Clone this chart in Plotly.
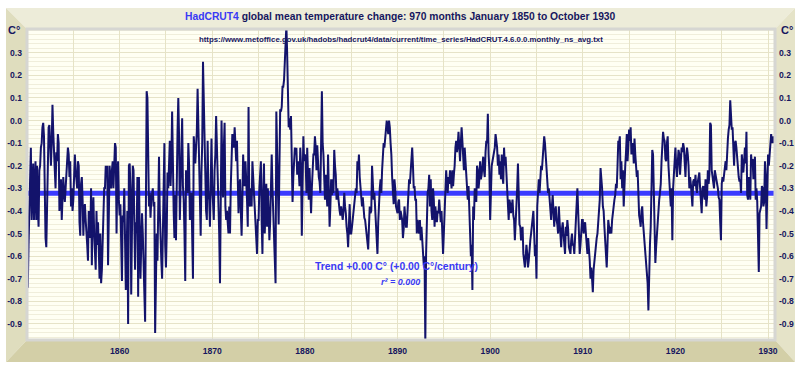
import numpy as np
import plotly.graph_objects as go

# ---------------- data (monthly anomalies, °C) ----------------
t1850s = [
    -0.30, -0.74, -0.55, -0.35, -0.20, -0.12, -0.44, -0.32, -0.19, -0.44, -0.30, -0.18,
    -0.44, -0.20, -0.38, -0.47, -0.22, -0.20, -0.12, -0.10, -0.03, -0.01, -0.07, -0.44,
    -0.52, -0.56, -0.30, -0.06, -0.03, -0.02, -0.18, -0.20, -0.10, 0.07, -0.05, -0.19,
    -0.22, -0.30, -0.14, -0.18, -0.06, -0.10, -0.40, -0.30, -0.26, -0.44, -0.30, -0.25,
    -0.32, -0.36, -0.30, -0.22, -0.18, -0.12, -0.15, -0.25, -0.18, -0.38, -0.30, -0.40,
    -0.35, -0.20, -0.15, -0.22, -0.28, -0.30, -0.18, -0.20, -0.45, -0.51, -0.28, -0.25,
    -0.35, -0.51, -0.40, -0.37, -0.44, -0.48, -0.55, -0.62, -0.40, -0.45, -0.52, -0.30,
    -0.64, -0.42, -0.34, -0.50, -0.58, -0.66, -0.40, -0.55, -0.45, -0.62, -0.70, -0.50,
    -0.72, -0.66, -0.55, -0.44, -0.30, -0.30, -0.20, -0.25, -0.20, -0.64, -0.42, -0.20,
    -0.26, -0.30, -0.22, -0.18, -0.30, -0.22, -0.10, -0.12, -0.50, -0.25, -0.18, -0.35,
]
t1860s = [
    -0.42, -0.37, -0.60, -0.71, -0.42, -0.45, -0.30, -0.55, -0.75, -0.62, -0.40, -0.90,
    -0.20, -0.19, -0.30, -0.77, -0.40, -0.20, -0.22, -0.50, -0.66, -0.45, -0.50, -0.25,
    -0.78, -0.25, -0.45, -0.70, -0.55, -0.41, -0.50, -0.60, -0.75, -0.89, -0.40, 0.13,
    0.10, -0.20, -0.38, -0.32, -0.43, -0.35, -0.32, -0.30, -0.38, -0.36, -0.94, -0.55,
    -0.50, -0.62, -0.45, -0.16, -0.40, -0.60, -0.62, -0.70, -0.45, -0.26, -0.10, -0.55,
    -0.65, -0.50, -0.23, -0.30, -0.13, -0.09, -0.29, -0.18, 0.04, -0.30, -0.40, -0.52,
    -0.33, -0.53, -0.18, -0.05, 0.10, -0.07, -0.44, -0.30, -0.26, 0.01, -0.29, -0.35,
    -0.50, -0.71, -0.22, -0.30, -0.32, -0.10, -0.20, -0.44, -0.40, -0.32, -0.55, -0.70,
    -0.07, -0.12, -0.19, -0.12, -0.05, 0.14, 0.00, -0.15, -0.35, -0.51, -0.23, -0.10,
    0.26, 0.10, -0.05, -0.29, -0.40, -0.44, -0.09, -0.32, -0.35, -0.47, -0.20, -0.08,
]
t1870s = [
    -0.29, -0.35, -0.44, -0.22, -0.15, 0.02, -0.10, -0.29, -0.40, -0.50, -0.72, -0.29,
    0.00, -0.20, -0.34, -0.12, -0.01, -0.38, -0.44, -0.40, -0.47, -0.50, -0.38, -0.50,
    -0.29, -0.15, -0.06, -0.10, -0.12, -0.03, -0.15, -0.18, -0.09, -0.25, -0.41, -0.30,
    -0.26, -0.40, -0.51, -0.35, -0.15, -0.25, -0.29, -0.18, -0.25, -0.35, -0.47, 0.06,
    -0.37, -0.38, -0.30, -0.38, -0.18, -0.25, -0.29, -0.38, -0.47, -0.52, -0.59, -0.44,
    -0.44, -0.30, -0.20, -0.18, -0.45, -0.59, -0.32, -0.19, -0.50, -0.32, -0.28, -0.47,
    -0.30, -0.40, -0.53, -0.45, -0.33, -0.15, -0.30, -0.41, -0.46, -0.55, -0.72, 0.04,
    -0.22, -0.30, -0.46, -0.15, 0.05, 0.04, 0.06, 0.15, 0.15, 0.18, 0.30, 0.36,
    0.42, 0.30, 0.15, -0.03, 0.01, -0.04, 0.02, -0.19, -0.36, -0.25, -0.15, -0.12,
    -0.15, -0.12, -0.24, -0.18, -0.22, -0.29, -0.12, -0.20, -0.51, -0.30, -0.07, -0.18,
]
t1880s = [
    -0.15, -0.18, -0.32, -0.12, -0.30, -0.35, -0.21, -0.28, -0.41, -0.30, -0.24, -0.15,
    -0.15, -0.07, -0.12, -0.22, -0.11, -0.20, -0.25, -0.27, -0.32, -0.10, 0.13, -0.10,
    -0.15, -0.25, -0.35, -0.24, -0.32, -0.38, -0.15, -0.30, -0.47, -0.38, -0.26, -0.33,
    -0.26, -0.32, -0.13, -0.20, -0.24, -0.35, -0.30, -0.33, -0.38, -0.40, -0.42, -0.38,
    -0.41, -0.44, -0.40, -0.32, -0.38, -0.41, -0.47, -0.50, -0.56, -0.45, -0.37, -0.50,
    -0.50, -0.47, -0.44, -0.40, -0.38, -0.33, -0.30, -0.32, -0.18, -0.22, -0.15, -0.25,
    -0.30, -0.35, -0.38, -0.34, -0.40, -0.43, -0.44, -0.47, -0.50, -0.52, -0.57, -0.47,
    -0.38, -0.41, -0.40, -0.20, -0.30, -0.35, -0.32, -0.40, -0.44, -0.50, -0.59, -0.45,
    -0.35, -0.30, -0.26, -0.32, -0.22, -0.15, -0.10, -0.12, -0.06, -0.04, 0.00, -0.05,
    -0.06, 0.00, -0.03, -0.10, -0.15, -0.25, -0.32, -0.37, -0.26, -0.30, -0.38, -0.40,
]
t1890s = [
    -0.41, -0.36, -0.35, -0.44, -0.40, -0.42, -0.44, -0.52, -0.48, -0.38, -0.42, -0.47,
    -0.47, -0.40, -0.34, -0.26, -0.28, -0.22, -0.18, -0.12, -0.20, -0.30, -0.29, -0.35,
    -0.35, -0.50, -0.44, -0.47, -0.50, -0.44, -0.53, -0.47, -0.52, -0.60, -0.64, -0.60,
    -0.98, -0.59, -0.40, -0.32, -0.30, -0.24, -0.38, -0.26, -0.40, -0.44, -0.30, -0.35,
    -0.47, -0.38, -0.42, -0.45, -0.40, -0.41, -0.35, -0.41, -0.45, -0.40, -0.50, -0.59,
    -0.50, -0.38, -0.32, -0.22, -0.28, -0.32, -0.25, -0.28, -0.22, -0.26, -0.30, -0.22,
    -0.29, -0.24, -0.20, -0.12, -0.09, -0.14, -0.11, -0.05, -0.12, -0.18, -0.10, -0.03,
    -0.09, -0.15, -0.22, -0.12, -0.17, -0.26, -0.30, -0.35, -0.29, -0.38, -0.53, -0.60,
    -0.55, -0.75, -0.38, -0.44, -0.30, -0.34, -0.36, -0.20, -0.22, -0.30, -0.26, -0.18,
    -0.26, -0.24, -0.20, -0.16, -0.22, -0.25, -0.14, -0.09, -0.10, 0.03, -0.15, -0.22,
]
t1900s = [
    -0.44, -0.23, -0.20, -0.18, -0.15, -0.14, -0.12, -0.06, -0.09, -0.12, -0.20, -0.15,
    -0.24, -0.18, -0.26, -0.15, -0.25, -0.28, -0.12, -0.20, -0.16, -0.25, -0.32, -0.40,
    -0.44, -0.35, -0.37, -0.41, -0.38, -0.35, -0.42, -0.44, -0.53, -0.47, -0.40, -0.30,
    -0.19, -0.44, -0.46, -0.47, -0.53, -0.50, -0.47, -0.59, -0.62, -0.65, -0.60, -0.55,
    -0.59, -0.65, -0.62, -0.56, -0.53, -0.50, -0.47, -0.42, -0.40, -0.50, -0.60, -0.55,
    -0.70, -0.38, -0.30, -0.26, -0.32, -0.25, -0.20, -0.22, -0.15, -0.12, -0.07, -0.10,
    -0.15, -0.23, -0.28, -0.32, -0.30, -0.34, -0.37, -0.44, -0.38, -0.33, -0.40, -0.47,
    -0.40, -0.38, -0.44, -0.46, -0.50, -0.38, -0.45, -0.53, -0.56, -0.48, -0.45, -0.50,
    -0.56, -0.59, -0.47, -0.51, -0.44, -0.48, -0.56, -0.58, -0.59, -0.53, -0.50, -0.55,
    -0.55, -0.59, -0.50, -0.44, -0.36, -0.30, -0.40, -0.47, -0.59, -0.55, -0.50, -0.44,
]
t1910s = [
    -0.44, -0.50, -0.47, -0.45, -0.50, -0.55, -0.59, -0.52, -0.56, -0.62, -0.70, -0.65,
    -0.70, -0.76, -0.66, -0.62, -0.59, -0.56, -0.52, -0.50, -0.44, -0.40, -0.35, -0.21,
    -0.25, -0.30, -0.38, -0.40, -0.47, -0.52, -0.58, -0.65, -0.55, -0.44, -0.47, -0.50,
    -0.47, -0.50, -0.44, -0.42, -0.38, -0.35, -0.33, -0.28, -0.30, -0.20, -0.09, -0.10,
    -0.07, -0.26, -0.18, -0.30, -0.22, -0.38, -0.25, -0.20, -0.14, -0.06, -0.18, -0.12,
    -0.04, -0.09, -0.03, -0.15, -0.12, -0.10, -0.19, -0.08, -0.15, -0.20, -0.25, -0.22,
    -0.38, -0.42, -0.44, -0.47, -0.40, -0.38, -0.45, -0.50, -0.56, -0.59, -0.65, -0.70,
    -0.72, -0.84, -0.62, -0.55, -0.47, -0.20, -0.13, -0.15, -0.35, -0.50, -0.63, -0.56,
    -0.50, -0.44, -0.40, -0.35, -0.32, -0.28, -0.18, -0.12, -0.05, -0.08, -0.09, -0.17,
    -0.18, -0.10, -0.07, -0.20, -0.26, -0.32, -0.38, -0.30, -0.53, -0.30, -0.22, -0.18,
]
t1920s = [
    -0.12, -0.20, -0.25, -0.19, -0.13, -0.15, -0.24, -0.18, -0.12, -0.14, -0.10, -0.12,
    -0.22, -0.25, -0.16, -0.12, -0.15, -0.20, -0.30, -0.25, -0.28, -0.32, -0.38, -0.27,
    -0.26, -0.29, -0.24, -0.30, -0.32, -0.27, -0.24, -0.23, -0.30, -0.35, -0.41, -0.30,
    -0.29, -0.33, -0.35, -0.26, -0.38, -0.34, -0.22, -0.28, -0.24, -0.01, -0.02, -0.22,
    -0.24, -0.28, -0.30, -0.22, -0.24, -0.26, -0.29, -0.30, -0.34, -0.35, -0.45, -0.53,
    -0.28, -0.25, -0.27, -0.24, -0.20, -0.18, -0.22, -0.12, -0.08, -0.04, -0.02, 0.09,
    0.00, -0.04, -0.03, -0.12, -0.20, -0.10, -0.09, -0.12, -0.18, -0.22, -0.25, -0.27,
    -0.26, -0.32, -0.15, -0.20, -0.23, -0.18, -0.12, -0.19, -0.05, -0.33, -0.35, -0.25,
    -0.32, -0.35, -0.15, -0.19, -0.17, -0.26, -0.20, -0.16, -0.35, -0.30, -0.36, -0.50,
    -0.67, -0.41, -0.40, -0.38, -0.29, -0.30, -0.38, -0.36, -0.18, -0.25, -0.48, -0.26,
]
t1930 = [-0.15, -0.20, -0.15, -0.12, -0.06, -0.10, -0.08, -0.07, -0.10, -0.08]

start_year = 1850
trend_start, trend_end = -0.322, -0.322          # flat linear trend as shown
ytick_vals = [0.3, 0.2, 0.1, 0.0, -0.1, -0.2, -0.3, -0.4, -0.5, -0.6, -0.7, -0.8, -0.9]
ytick_text = ["0.3", "0.2", "0.1", "0.0", "-0.1", "-0.2", "-0.3", "-0.4", "-0.5",
              "-0.6", "-0.7", "-0.8", "-0.9"]
xgrid_years = list(range(1850, 1931, 5))
xlabel_years = [1860, 1870, 1880, 1890, 1900, 1910, 1920, 1930]

temps = t1850s + t1860s + t1870s + t1880s + t1890s + t1900s + t1910s + t1920s + t1930
months = start_year + np.arange(len(temps)) / 12.0

# ---------------- geometry ----------------
W, H = 803, 367
L, R, T, B = 27, 775, 29, 340
YR = [-0.971, 0.405]
XR = [start_year, months[-1]]


def px(x):
    return (x - L) / (R - L)


def py(y):
    return (B - y) / (B - T)


FONT = "Arial, Liberation Sans, sans-serif"
NAVY = "#16165e"
BLUE = "#3a3af5"
TICKFONT = dict(family=FONT, size=8.6, color=NAVY, weight="bold")

fig = go.Figure()
fig.add_trace(go.Scatter(x=[XR[0], XR[1]], y=[trend_start, trend_end], mode="lines",
                         line=dict(color="#3b3bff", width=5), hoverinfo="skip"))
fig.add_trace(go.Scatter(x=months, y=temps, mode="lines", yaxis="y2",
                         line=dict(color="#13136b", width=2)))

xtext = [f"{y}" if y in xlabel_years else "" for y in xgrid_years]
fig.update_layout(
    width=W, height=H,
    margin=dict(l=L, r=W - R, t=T, b=H - B, pad=0),
    paper_bgcolor="white", plot_bgcolor="#FFFFF3",
    showlegend=False,
    xaxis=dict(range=XR, tickmode="array", tickvals=xgrid_years, ticktext=xtext,
               showgrid=True, gridcolor="#E6E3C6", gridwidth=1, zeroline=False,
               ticks="", showline=False, automargin=False, ticklabelstandoff=4,
               tickfont=TICKFONT),
    yaxis=dict(range=YR, tickmode="array", tickvals=ytick_vals, ticktext=ytick_text,
               showgrid=True, gridcolor="#E6E3C8", gridwidth=1, zeroline=False,
               ticks="", showline=False, ticklabelstandoff=4, automargin=False,
               minor=dict(tickmode="linear", tick0=0, dtick=0.02, showgrid=True,
                          gridcolor="#F0EEDB", gridwidth=1),
               tickfont=TICKFONT),
    yaxis2=dict(range=YR, overlaying="y", side="right", tickmode="array",
                tickvals=ytick_vals, ticktext=ytick_text, showgrid=False,
                zeroline=False, ticks="", showline=False, ticklabelstandoff=3,
                automargin=False, tickfont=TICKFONT),
)

# ---------------- beige bevelled frame ----------------
X0, X1, Y0, Y1 = 6, 795, 8, 362


def poly(pts, color):
    d = "M " + " L ".join(f"{px(a):.5f},{py(b):.5f}" for a, b in pts) + " Z"
    fig.add_shape(type="path", path=d, xref="paper", yref="paper",
                  fillcolor=color, line=dict(width=0), layer="below")


poly([(X0, Y0), (X1, Y0), (R, T), (L, T)], "#EDECD9")          # top
poly([(X0, Y0), (L, T), (L, B), (X0, Y1)], "#DFDDBE")          # left
poly([(X1, Y0), (X1, Y1), (R, B), (R, T)], "#E5E3C8")          # right
poly([(X0, Y1), (L, B), (R, B), (X1, Y1)], "#D3CFA7")          # bottom
fig.add_shape(type="rect", xref="paper", yref="paper", x0=0, x1=1, y0=0, y1=1,
              line=dict(color="#D6D6D2", width=3), fillcolor="rgba(0,0,0,0)")

# ---------------- texts ----------------
def note(x, y, text, size, color=NAVY, italic=False, xanchor="center"):
    fig.add_annotation(x=px(x), y=py(y), xref="paper", yref="paper", text=text,
                       showarrow=False, xanchor=xanchor, yanchor="middle",
                       font=dict(family=FONT, size=size, color=color, weight="bold",
                                 style="italic" if italic else "normal"))


note(400, 17, f"<span style='color:{BLUE}'>HadCRUT4</span> global mean temperature change: "
     "970 months January 1850 to October 1930", 10.3)
note(401, 39, "https://www.metoffice.gov.uk/hadobs/hadcrut4/data/current/time_series/"
     "HadCRUT.4.6.0.0.monthly_ns_avg.txt", 7.8)
note(14, 30, "C°", 11)
note(787, 30, "C°", 11)
note(396, 266, "Trend +0.00 C° (+0.00 C°/century)", 10.4, color=BLUE)
note(400, 282, "r² = 0.000", 9.0, color=BLUE, italic=True)

# remove the browser's default page margin so the figure sits at the window origin
fig.write_html("out.html", config={"displayModeBar": False, "staticPlot": True},
               post_script="document.body.style.margin='0';document.body.style.overflow='hidden';")
